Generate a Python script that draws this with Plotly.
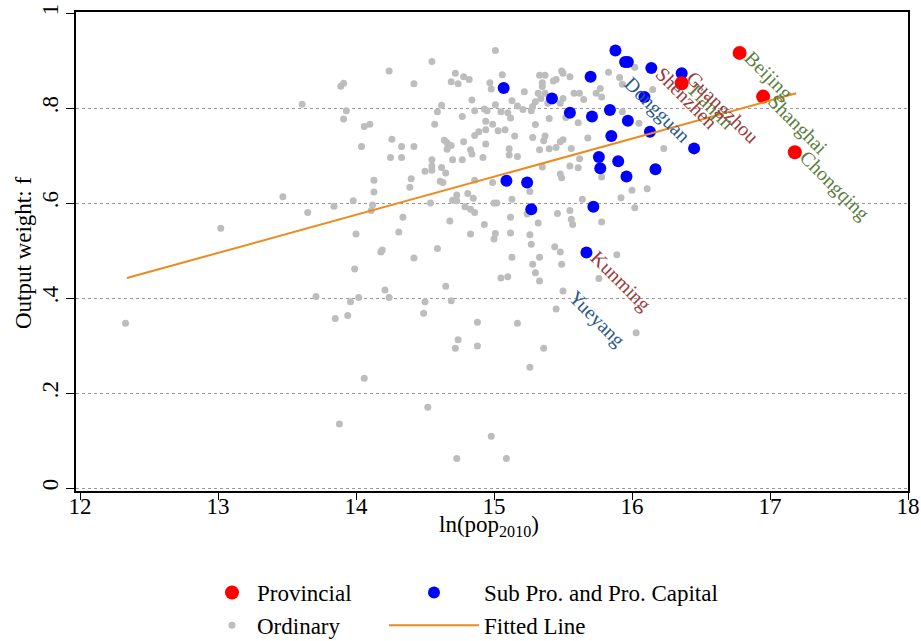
import math
import plotly.graph_objects as go

# ---------------- data ----------------
ord_x = [15.01, 14.55, 14.24, 13.89, 13.91, 14.42, 14.72, 14.78, 14.82, 14.69,
         14.74, 15.06, 14.97, 14.98, 14.84, 15.13, 15.17, 15.01, 14.62, 14.59,
         14.93, 14.95, 14.86, 15.05, 15.10, 15.12, 14.77, 13.61, 13.93, 13.91,
         14.06, 14.10, 14.57, 14.94, 14.99, 14.86, 14.89, 14.94, 15.03, 15.08,
         15.15, 14.26, 14.64, 14.66, 14.69, 14.66, 14.78, 14.94, 14.04, 14.33,
         14.42, 14.83, 14.84, 15.11, 15.11, 15.17, 14.25, 14.33, 14.55, 14.70,
         14.77, 14.92, 14.50, 14.55, 14.55, 14.62, 14.65, 14.13, 14.40, 14.39,
         14.61, 14.63, 14.86, 14.99, 14.13, 14.73, 14.81, 14.85, 15.13, 13.47,
         13.98, 13.84, 14.54, 14.70, 14.73, 15.00, 15.02, 14.12, 14.11, 14.79,
         14.83, 14.86, 13.65, 14.34, 15.12, 14.68, 14.93, 13.02, 14.00, 14.31,
         14.83, 15.01, 15.00, 15.12, 14.18, 14.19, 14.42, 14.59, 15.13, 13.99,
         15.05, 15.10,
         15.33, 15.37, 15.49, 15.50, 15.45, 15.43, 15.35, 15.35, 15.55, 15.83,
         16.02, 15.91, 15.93, 15.22, 15.32, 15.37, 15.34, 15.58, 15.62, 15.74,
         15.77, 15.78, 15.50, 15.48, 15.65, 15.30, 15.28, 15.27, 15.39, 15.21,
         15.93, 15.52, 15.30, 15.40, 15.61, 16.05, 15.28, 15.37, 15.36, 15.48,
         15.50, 15.68, 15.40, 15.45, 15.33, 15.56, 15.62, 15.55, 15.61, 16.15,
         16.23, 15.35,
         15.48, 15.49, 15.78, 15.26, 15.24, 15.64, 16.00, 16.11, 15.92, 16.02,
         15.46, 15.55, 15.56, 15.57, 15.78, 15.32, 15.26, 15.27, 15.44, 15.48,
         15.33, 15.89, 15.28, 15.49, 15.30, 15.33, 15.76,
         13.71, 13.96, 14.02, 13.85, 13.94, 14.21, 14.24, 14.06, 14.49,
         14.50, 14.65, 14.69, 14.88, 14.74, 14.72, 14.88, 15.17, 15.26, 15.36,
         15.45, 15.50, 16.03, 14.52, 13.88, 14.98, 14.73, 15.09, 12.33]
ord_y = [0.921, 0.898, 0.878, 0.846, 0.852, 0.851, 0.873, 0.866, 0.860, 0.855,
         0.851, 0.870, 0.853, 0.840, 0.817, 0.815, 0.804, 0.807, 0.806, 0.792,
         0.798, 0.794, 0.794, 0.792, 0.790, 0.779, 0.782, 0.808, 0.794, 0.777,
         0.761, 0.766, 0.766, 0.772, 0.766, 0.742, 0.750, 0.754, 0.752, 0.754,
         0.741, 0.734, 0.732, 0.727, 0.721, 0.713, 0.729, 0.724, 0.719, 0.719,
         0.719, 0.712, 0.703, 0.714, 0.701, 0.698, 0.696, 0.696, 0.691, 0.691,
         0.691, 0.696, 0.667, 0.669, 0.678, 0.675, 0.663, 0.648, 0.651, 0.633,
         0.646, 0.643, 0.648, 0.643, 0.623, 0.617, 0.620, 0.610, 0.608, 0.613,
         0.605, 0.593, 0.600, 0.606, 0.605, 0.600, 0.600, 0.596, 0.584, 0.592,
         0.587, 0.580, 0.580, 0.570, 0.570, 0.562, 0.555, 0.547, 0.535, 0.539,
         0.535, 0.536, 0.524, 0.537, 0.497, 0.501, 0.484, 0.504, 0.486, 0.461,
         0.442, 0.445,
         0.869, 0.869, 0.878, 0.873, 0.860, 0.857, 0.853, 0.845, 0.866, 0.875,
         0.886, 0.864, 0.850, 0.834, 0.831, 0.831, 0.820, 0.831, 0.831, 0.831,
         0.841, 0.823, 0.820, 0.810, 0.818, 0.813, 0.803, 0.794, 0.810, 0.797,
         0.792, 0.780, 0.765, 0.778, 0.769, 0.768, 0.738, 0.741, 0.731, 0.729,
         0.733, 0.737, 0.714, 0.717, 0.712, 0.715, 0.693, 0.678, 0.674, 0.839,
         0.715, 0.676,
         0.661, 0.653, 0.655, 0.624, 0.577, 0.608, 0.627, 0.630, 0.611, 0.590,
         0.578, 0.584, 0.566, 0.555, 0.560, 0.558, 0.533, 0.513, 0.508, 0.497,
         0.486, 0.491, 0.471, 0.471, 0.453, 0.436, 0.441,
         0.403, 0.392, 0.401, 0.357, 0.363, 0.417, 0.401, 0.231, 0.368,
         0.392, 0.425, 0.394, 0.349, 0.312, 0.294, 0.299, 0.347, 0.254, 0.294,
         0.377, 0.415, 0.327, 0.170, 0.135, 0.109, 0.062, 0.062, 0.347]

sub_x = [15.07, 15.42, 15.09, 15.24, 15.27, 15.55, 15.70, 15.71, 15.84, 15.88,
         15.95, 15.97, 15.97, 16.09, 15.85, 16.13, 15.76, 15.90, 15.77, 15.96,
         16.17, 16.45, 15.72, 15.67, 16.14, 16.36]
sub_y = [0.842, 0.820, 0.647, 0.643, 0.587, 0.790, 0.866, 0.782, 0.796, 0.921,
         0.897, 0.897, 0.773, 0.823, 0.741, 0.750, 0.697, 0.688, 0.673, 0.656,
         0.671, 0.715, 0.592, 0.496, 0.884, 0.873]

prov_x = [16.78, 16.36, 16.95, 17.18]
prov_y = [0.916, 0.852, 0.824, 0.707]
prov_names = ["Beijing", "Tianjin", "Shanghai", "Chongqing"]

sub_labels = {23: "Kunming", 24: "Shenzhen", 25: "Guangzhou"}
ord_labels = {123: "Dongguan", 211: "Yueyang"}

fit_x = [12.34, 17.19]
fit_y = [0.442, 0.831]

x_ticks = [12, 13, 14, 15, 16, 17, 18]
y_ticks = [0, 0.2, 0.4, 0.6, 0.8, 1]
y_tick_text = ["0", ".2", ".4", ".6", ".8", "1"]

x_title = "ln(pop<sub>2010</sub>)"
y_title = "Output weight: f"

# ---------------- styling ----------------
FONT = "Liberation Serif"
C_RED = "#ff0000"
C_BLUE = "#0000ff"
C_GRAY = "#bdbdbd"
C_ORANGE = "#ec8a1e"
LAB_GREEN = "#5b7d3c"
LAB_RED = "#9b3a3c"
LAB_BLUE = "#2c5a88"

fig = go.Figure()

fig.add_trace(go.Scatter(
    x=ord_x, y=ord_y, mode="markers", name="Ordinary",
    marker=dict(color=C_GRAY, size=7, line=dict(width=0)),
    legend="legend", legendrank=2))
fig.add_trace(go.Scatter(
    x=sub_x, y=sub_y, mode="markers", name="Sub Pro. and Pro. Capital",
    marker=dict(color=C_BLUE, size=12, line=dict(width=0)),
    legend="legend2", legendrank=1))
fig.add_trace(go.Scatter(
    x=prov_x, y=prov_y, mode="markers", name="Provincial",
    marker=dict(color=C_RED, size=14, line=dict(width=0)),
    legend="legend", legendrank=1))
fig.add_trace(go.Scatter(
    x=fit_x, y=fit_y, mode="lines", name="Fitted Line",
    line=dict(color=C_ORANGE, width=2),
    legend="legend2", legendrank=2))

# ---------------- point labels (rotated, starting right of the dot) ----------------
EM = {"A": .722, "B": .667, "C": .667, "D": .722, "G": .722, "K": .722, "S": .556,
      "T": .611, "Y": .722, "a": .444, "b": .5, "c": .444, "d": .5, "e": .444,
      "g": .5, "h": .5, "i": .278, "j": .278, "n": .5, "o": .5, "q": .5, "u": .5,
      "m": .778, "y": .5, "z": .444, "l": .278}
LAB_SIZE = 20
ANG = 45


def text_width(s, size):
    return sum(EM.get(ch, 0.5) for ch in s) * size


annotations = []


def add_label(x, y, name, color):
    L = text_width(name, LAB_SIZE)
    c = math.cos(math.radians(ANG))
    s = math.sin(math.radians(ANG))
    annotations.append(dict(
        x=x, y=y, xref="x", yref="y", text=name, textangle=ANG,
        showarrow=False, xanchor="center", yanchor="middle",
        xshift=8 + c * L / 2, yshift=-(2 + s * L / 2),
        font=dict(family=FONT, size=LAB_SIZE, color=color)))


for i, nm in enumerate(prov_names):
    add_label(prov_x[i], prov_y[i], nm, LAB_GREEN)
for i, nm in sub_labels.items():
    add_label(sub_x[i], sub_y[i], nm, LAB_RED)
for i, nm in ord_labels.items():
    add_label(ord_x[i], ord_y[i], nm, LAB_BLUE)

W, H = 921, 641
ML, MR, MT, MB = 76, 13, 12, 150
PW, PH = W - ML - MR, H - MT - MB

# axis titles placed as paper annotations
annotations.append(dict(
    text=x_title, xref="paper", yref="paper",
    x=(489 - ML) / PW, y=(H - MB - 526) / PH, xanchor="center", yanchor="middle",
    showarrow=False, font=dict(family=FONT, size=23, color="black")))
annotations.append(dict(
    text=y_title, xref="paper", yref="paper", textangle=-90,
    x=(23 - ML) / PW, y=(H - MB - 253) / PH, xanchor="center", yanchor="middle",
    showarrow=False, font=dict(family=FONT, size=23, color="black")))

fig.update_layout(
    width=W, height=H,
    margin=dict(l=ML, r=MR, t=MT, b=MB, pad=0, autoexpand=False),
    paper_bgcolor="white", plot_bgcolor="white",
    font=dict(family=FONT, size=23, color="black"),
    annotations=annotations,
    showlegend=True,
    legend=dict(x=207 / W, y=1 - 571 / H, xref="container", yref="container",
                xanchor="left", yanchor="top", orientation="v",
                itemwidth=40, font=dict(family=FONT, size=23),
                bgcolor="rgba(0,0,0,0)", tracegroupgap=0),
    legend2=dict(x=384 / W, y=1 - 571 / H, xref="container", yref="container",
                 xanchor="left", yanchor="top", orientation="v",
                 itemwidth=90, font=dict(family=FONT, size=23),
                 bgcolor="rgba(0,0,0,0)", tracegroupgap=0),
)

fig.update_xaxes(
    range=[11.971, 18.0], tickvals=x_ticks, ticktext=[str(t) for t in x_ticks],
    tickangle=0, automargin=False, ticklabeloverflow="allow",
    ticklabelstandoff=-13,
    ticks="outside", ticklen=7, tickwidth=1.3, tickcolor="black",
    showline=True, linecolor="black", linewidth=1.5, mirror=True,
    showgrid=False, zeroline=False,
    tickfont=dict(family=FONT, size=23),
)
fig.update_yaxes(
    range=[-0.0063, 1.0021], tickvals=y_ticks, ticktext=y_tick_text,
    tickangle=-90, automargin=False, ticklabeloverflow="allow",
    ticklabelstandoff=-1,
    ticks="outside", ticklen=8, tickwidth=1.3, tickcolor="black",
    showline=True, linecolor="black", linewidth=1.5, mirror=True,
    showgrid=True, gridcolor="#9a9a9a", gridwidth=1, griddash="dot",
    zeroline=False,
    tickfont=dict(family=FONT, size=23),
)

fig.write_html("out.html",
               config={"displayModeBar": False},
               post_script="document.body.style.margin='0';"
                           "document.body.style.overflow='hidden';")
